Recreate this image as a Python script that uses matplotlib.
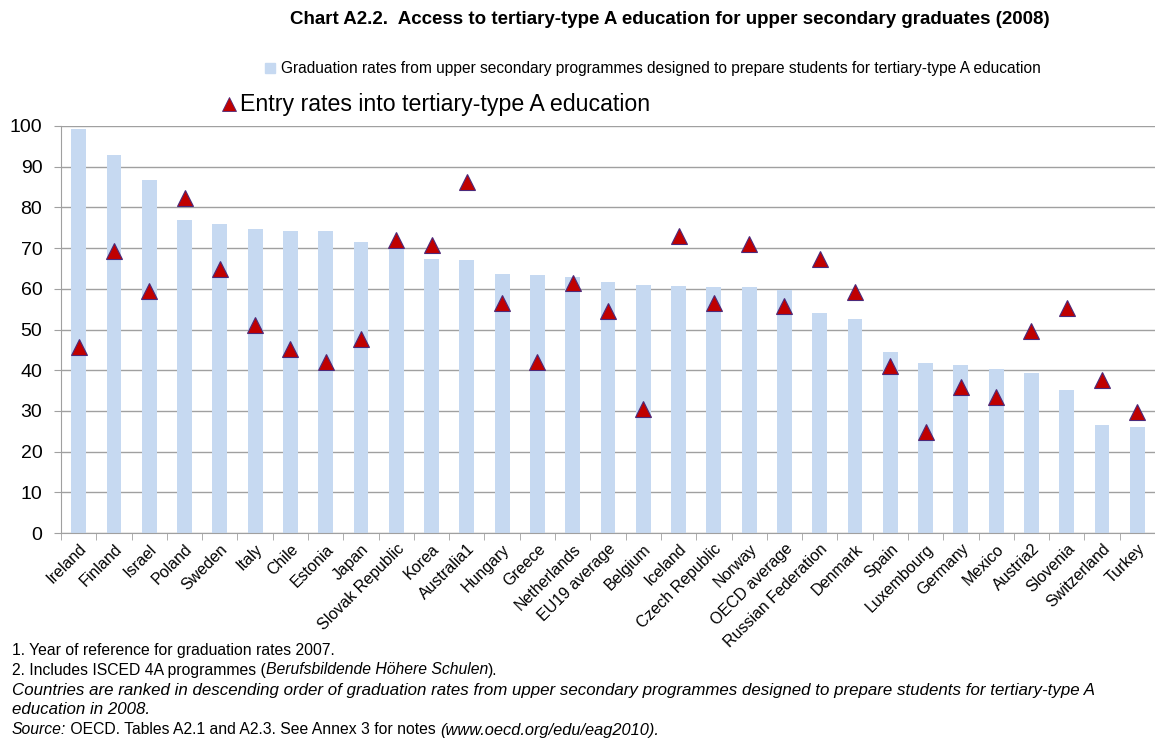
import matplotlib.pyplot as plt
import matplotlib.lines as mlines
import matplotlib.patches as mpatches
import numpy as np

plt.rcParams['font.family'] = ['Liberation Sans', 'DejaVu Sans']

countries = ['Ireland', 'Finland', 'Israel', 'Poland', 'Sweden', 'Italy', 'Chile',
             'Estonia', 'Japan', 'Slovak Republic', 'Korea', 'Australia1', 'Hungary',
             'Greece', 'Netherlands', 'EU19 average', 'Belgium', 'Iceland',
             'Czech Republic', 'Norway', 'OECD average', 'Russian Federation',
             'Denmark', 'Spain', 'Luxembourg', 'Germany', 'Mexico', 'Austria2',
             'Slovenia', 'Switzerland', 'Turkey']
# graduation rates (bars)
graduation = [99.2, 92.9, 86.7, 76.8, 75.8, 74.8, 74.1, 74.1, 71.4, 70.0, 67.3, 67.0,
              63.7, 63.4, 62.8, 61.7, 61.0, 60.7, 60.5, 60.5, 59.8, 54.0, 52.7, 44.5,
              41.8, 41.3, 40.4, 39.2, 35.1, 26.5, 26.1]
# entry rates (triangles)
entry = [45.6, 69.3, 59.5, 82.2, 64.8, 51.1, 45.2, 41.9, 47.6, 72.0, 70.7, 86.3,
         56.4, 42.0, 61.5, 54.5, 30.4, 73.0, 56.4, 71.0, 55.7, 67.3, 59.3, 41.1,
         24.7, 35.9, 33.3, 49.6, 55.4, 37.5, 29.8]

W, H = 1155, 740
fig = plt.figure(figsize=(W / 100, H / 100), dpi=100)

# axes in pixel terms: left 61, top 126 (=100), bottom 533 (=0)
ax = fig.add_axes([61 / W, 1 - 533 / H, 1 - 61 / W, 407 / H])
x = np.arange(len(countries))
ax.bar(x, graduation, width=0.42, color='#C6D9F1', zorder=2)
ax.plot(x, entry, linestyle='none', marker='^', markersize=12,
        markerfacecolor='#C00000', markeredgecolor='#4B2A7B',
        markeredgewidth=0.8, zorder=3, clip_on=False)

ax.set_ylim(0, 100)
ax.set_xlim(-0.5, -0.5 + (W - 61) / 35.69)
ax.set_yticks(range(0, 101, 10))
ax.yaxis.grid(True, color='#A0A0A0', linewidth=1, zorder=1)
ax.set_axisbelow(True)

ax.set_xticks(x)
ax.set_xticklabels(countries, rotation=45, ha='right', rotation_mode='anchor',
                   fontsize=11.5)
ax.set_xticks(np.arange(-0.5, len(countries), 1), minor=True)
ax.tick_params(axis='x', which='major', length=0, pad=6)
ax.tick_params(axis='x', which='minor', length=5, color='#A0A0A0')
ax.tick_params(axis='y', length=5, color='#A0A0A0', labelsize=14, pad=8.5)

for s in ['top', 'right']:
    ax.spines[s].set_visible(False)
for s in ['left', 'bottom']:
    ax.spines[s].set_color('#A0A0A0')

# title
fig.text(670 / W, 1 - 20 / H, 'Chart A2.2.  Access to tertiary-type A education for upper secondary graduates (2008)',
         ha='center', va='center', fontsize=13.5, fontweight='bold')

# legend, drawn by hand
fig.patches.append(mpatches.Rectangle((265 / W, 1 - 73 / H), 10 / W, 10 / H,
                                      color='#C6D9F1', transform=fig.transFigure))
fig.text(281 / W, 1 - 68 / H,
         'Graduation rates from upper secondary programmes designed to prepare students for tertiary-type A education',
         ha='left', va='center', fontsize=11.2)
fig.lines.append(mlines.Line2D([229 / W], [1 - 104 / H], marker='^', markersize=10,
                               markerfacecolor='#C00000', markeredgecolor='#4B2A7B',
                               markeredgewidth=0.6, transform=fig.transFigure))
fig.text(240 / W, 1 - 104 / H, 'Entry rates into tertiary-type A education',
         ha='left', va='center', fontsize=16.7)

# footnotes with mixed styles
renderer = fig.canvas.get_renderer()


def rich_line(ypx, parts):
    xpos = 12 / W
    for txt, style, size in parts:
        t = fig.text(xpos, 1 - ypx / H, txt, ha='left', va='center',
                     fontsize=size, style=style)
        bb = t.get_window_extent(renderer)
        xpos = bb.x1 / W


rich_line(651, [('1. Year of reference for graduation rates 2007.', 'normal', 11.3)])
rich_line(670, [('2. Includes ISCED 4A programmes (', 'normal', 11.3),
                ('Berufsbildende Höhere Schulen', 'italic', 11.3), (').', 'normal', 11.3)])
rich_line(690, [('Countries are ranked in descending order of graduation rates from upper secondary programmes designed to prepare students for tertiary-type A', 'italic', 12.2)])
rich_line(710, [('education in 2008.', 'italic', 12.2)])
rich_line(730, [('Source:', 'italic', 11.3),
                (' OECD. Tables A2.1 and A2.3. See Annex 3 for notes ', 'normal', 11.3),
                ('(www.oecd.org/edu/eag2010).', 'italic', 11.8)])

fig.savefig('out.png', dpi=100)
